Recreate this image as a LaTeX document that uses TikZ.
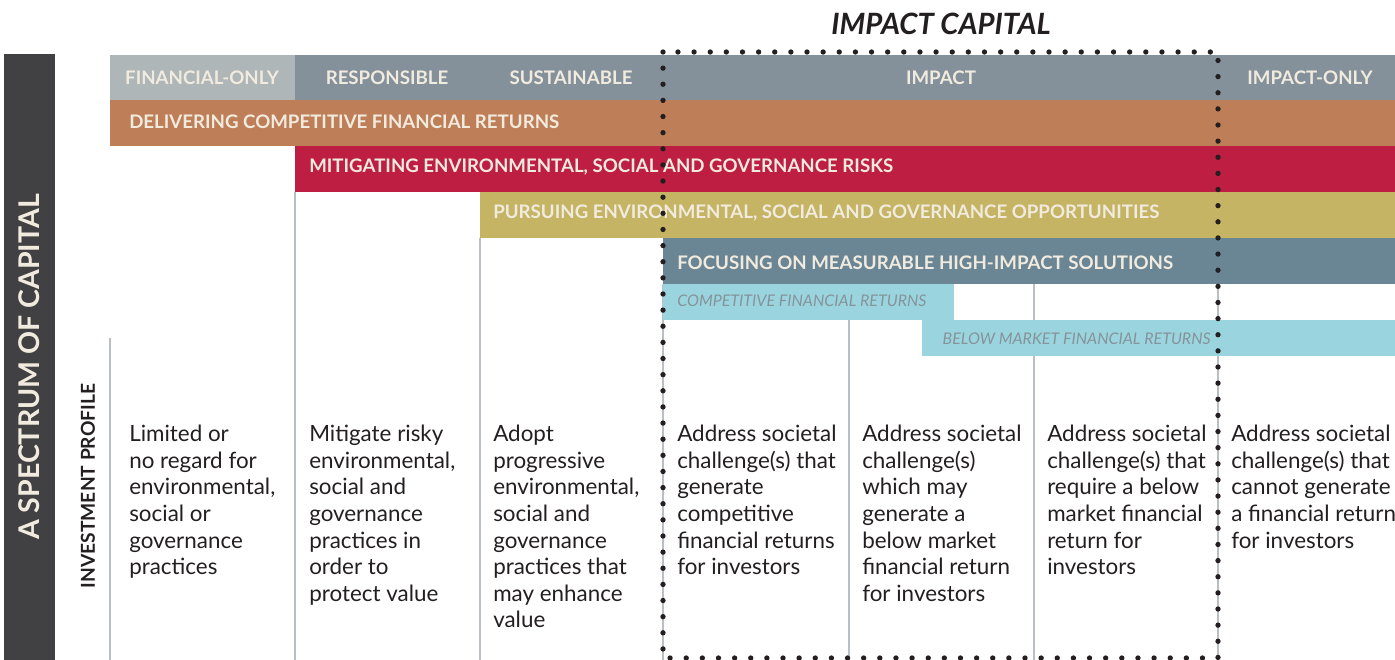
\documentclass[tikz,border=0pt]{standalone}
\usepackage{fontspec}
\setmainfont{Lato}
\definecolor{darkbar}{HTML}{414042}
\definecolor{hdrlight}{HTML}{AEB6B8}
\definecolor{hdrgray}{HTML}{84919A}
\definecolor{deliv}{HTML}{BE7E57}
\definecolor{mitig}{HTML}{BD1E41}
\definecolor{pursu}{HTML}{C4B463}
\definecolor{focus}{HTML}{6A8695}
\definecolor{cyanband}{HTML}{9AD5DF}
\definecolor{cream}{HTML}{F1EBDF}
\definecolor{itgray}{HTML}{86939A}
\definecolor{grid}{HTML}{B9BFC4}
\definecolor{body}{HTML}{231F20}
\begin{document}
\begin{tikzpicture}[x=0.75pt,y=-0.75pt,
  hdr/.style={font=\fontsize{14}{16}\selectfont\bfseries, text=cream, inner sep=0pt},
  bandlbl/.style={font=\fontsize{14}{16}\selectfont\bfseries, text=cream, inner sep=0pt, anchor=west},
  itlbl/.style={font=\fontsize{12}{14}\selectfont\itshape, text=itgray, inner sep=0pt, anchor=west},
  coltext/.style={font=\fontsize{16.8}{19.95}\selectfont, text=body, inner sep=0pt, anchor=north west, align=left},
  gridline/.style={draw=grid, line width=1.2pt},
  dots/.style={draw=body, line width=4pt, line cap=round, dash pattern=on 0pt off 12.1pt}]
\useasboundingbox (0,0) rectangle (1395,660);
% left dark bar
\fill[darkbar] (4,54) rectangle (55,660);
\node[rotate=90, font=\fontsize{21.4}{24}\selectfont\bfseries, text=cream, inner sep=0pt] (spectrum) at (29,367) {A SPECTRUM OF CAPITAL};
\node[rotate=90, font=\fontsize{14.4}{16}\selectfont\bfseries, text=body, inner sep=0pt] (profile) at (88,486) {INVESTMENT PROFILE};
% grid lines
\draw[gridline] (110,338) -- (110,660);
\draw[gridline] (295,192) -- (295,660);
\draw[gridline] (480,238) -- (480,660);
\draw[gridline] (663,284) -- (663,660);
\draw[gridline] (849,320) -- (849,660);
\draw[gridline] (1034,284) -- (1034,660);
\draw[gridline] (1218,284) -- (1218,660);
% header row
\fill[hdrlight] (110,55) rectangle (295,100);
\fill[hdrgray] (295,55) rectangle (1395,100);
\node[hdr] (finonly) at (202,77.5) {FINANCIAL-ONLY};
\node[hdr] (resp) at (387,77.5) {RESPONSIBLE};
\node[hdr] (sust) at (571,77.5) {SUSTAINABLE};
\node[hdr] (impact) at (941,77.5) {IMPACT};
\node[hdr] (impactonly) at (1310,77.5) {IMPACT-ONLY};
% bands
\fill[deliv] (110,100) rectangle (1395,146);
\node[bandlbl] (delivering) at (129,121.5) {DELIVERING COMPETITIVE FINANCIAL RETURNS};
\fill[mitig] (295,146) rectangle (1395,192);
\node[bandlbl] (mitigating) at (309,167.5) {MITIGATING ENVIRONMENTAL, SOCIAL AND GOVERNANCE RISKS};
\fill[pursu] (480,192) rectangle (1395,238);
\node[bandlbl] (pursuing) at (493,213.5) {PURSUING ENVIRONMENTAL, SOCIAL AND GOVERNANCE OPPORTUNITIES};
\fill[focus] (663,238) rectangle (1395,284);
\node[bandlbl] (focusing) at (677,262.5) {FOCUSING ON MEASURABLE HIGH-IMPACT SOLUTIONS};
\fill[cyanband] (663,284) rectangle (954,320);
\node[itlbl] (competitive) at (677,301) {COMPETITIVE FINANCIAL RETURNS};
\fill[cyanband] (922,320) rectangle (1395,356);
\node[itlbl, anchor=east] (belowmarket) at (1211,339) {BELOW MARKET FINANCIAL RETURNS};
% column texts
\node[coltext] (c1) at (129,425) {Limited or\\no regard for\\environmental,\\social or\\governance\\practices};
\node[coltext] (c2) at (309,425) {Mitigate risky\\environmental,\\social and\\governance\\practices in\\order to\\protect value};
\node[coltext] (c3) at (493,425) {Adopt\\progressive\\environmental,\\social and\\governance\\practices that\\may enhance\\value};
\node[coltext] (c4) at (677,425) {Address societal\\challenge(s) that\\generate\\competitive\\financial returns\\for investors};
\node[coltext] (c5) at (862,425) {Address societal\\challenge(s)\\which may\\generate a\\below market\\financial return\\for investors};
\node[coltext] (c6) at (1047,425) {Address societal\\challenge(s) that\\require a below\\market financial\\return for\\investors};
\node[coltext] (c7) at (1231,425) {Address societal\\challenge(s) that\\cannot generate\\a financial return\\for investors};
% impact capital box
\draw[dots] (663,52) rectangle (1218,658);
\node[font=\fontsize{22}{24}\selectfont\bfseries\itshape, text=body, inner sep=0pt] (impcap) at (941,24) {IMPACT CAPITAL};
\end{tikzpicture}
\end{document}
